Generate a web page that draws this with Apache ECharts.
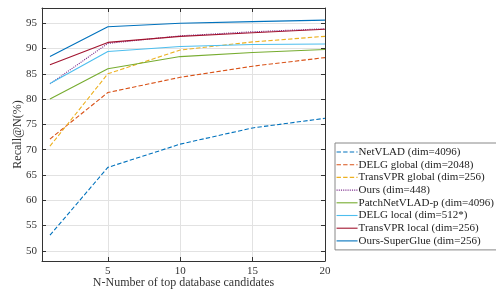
<!DOCTYPE html>
<html>
<head>
<meta charset="utf-8">
<script src="https://cdn.jsdelivr.net/npm/echarts@6/dist/echarts.min.js"></script>
<style>
html,body{margin:0;padding:0;background:#fff;}
#chart{width:496px;height:292px;}
</style>
</head>
<body>
<div id="chart"></div>
<script>
// N values on x axis
const nValues = [1, 5, 10, 15, 20];
const xTicks = [5, 10, 15, 20];
const yTicks = [50, 55, 60, 65, 70, 75, 80, 85, 90, 95];

const seriesNames = [
    "NetVLAD (dim=4096)",
    "DELG global (dim=2048)",
    "TransVPR global (dim=256)",
    "Ours (dim=448)",
    "PatchNetVLAD-p (dim=4096)",
    "DELG local (dim=512*)",
    "TransVPR local (dim=256)",
    "Ours-SuperGlue (dim=256)"
];
const netvlad = [53.1, 66.5, 71.1, 74.3, 76.2];
const delgGlobal = [72.1, 81.3, 84.3, 86.5, 88.2];
const transvprGlobal = [70.7, 85.0, 89.7, 91.3, 92.4];
const ours = [83.0, 91.0, 92.5, 93.3, 93.9];
const patchNetvlad = [80.0, 86.0, 88.4, 89.2, 89.8];
const delgLocal = [83.1, 89.4, 90.4, 90.8, 90.9];
const transvprLocal = [86.8, 91.2, 92.4, 93.1, 93.8];
const oursSuperglue = [88.4, 94.3, 95.0, 95.3, 95.6];

const seriesData = [netvlad, delgGlobal, transvprGlobal, ours, patchNetvlad, delgLocal, transvprLocal, oursSuperglue];
const colors = ['#0072BD', '#D95319', '#EDB120', '#7E2F8E', '#77AC30', '#4DBEEE', '#A2142F', '#0072BD'];
const lineTypes = ['dashed', 'dashed', 'dashed', 'dotted', 'solid', 'solid', 'solid', 'solid'];

const font = 'Liberation Serif';

function buildSeries() {
    var list = [];
    for (var i = 0; i < seriesData.length; i++) {
        var pts = [];
        for (var j = 0; j < nValues.length; j++) {
            pts.push([nValues[j], seriesData[i][j]]);
        }
        list.push({
            name: seriesNames[i],
            type: 'line',
            data: pts,
            symbol: 'none',
            color: colors[i],
            lineStyle: {width: 1.1, type: lineTypes[i], color: colors[i]},
            z: 3
        });
    }
    return list;
}

var chart = echarts.init(document.getElementById('chart'));
var axisLine = {show: true, lineStyle: {color: '#333', width: 1}};
option = {
    animation: false,
    grid: {left: 42, right: 171, top: 8, bottom: 31, outerBoundsMode: 'none'},
    xAxis: [
        {
            type: 'value', min: 0.45, max: 20, position: 'bottom',
            axisLine: axisLine,
            axisTick: {inside: true, length: 4, customValues: xTicks, lineStyle: {color: '#333'}},
            axisLabel: {customValues: xTicks, fontFamily: font, fontSize: 11, color: '#333', margin: 5},
            splitLine: {show: true, lineStyle: {color: '#e2e2e2'}},
            name: 'N-Number of top database candidates',
            nameLocation: 'middle', nameGap: 16, nameMoveOverlap: false,
            nameTextStyle: {fontFamily: font, fontSize: 12, color: '#333'}
        },
        {
            type: 'value', min: 0.45, max: 20, position: 'top',
            axisLine: axisLine,
            axisTick: {inside: true, length: 4, customValues: xTicks, lineStyle: {color: '#333'}},
            axisLabel: {show: false},
            splitLine: {show: false}
        }
    ],
    yAxis: [
        {
            type: 'value', min: 48, max: 98, position: 'left',
            axisLine: axisLine,
            axisTick: {inside: true, length: 4, customValues: yTicks, lineStyle: {color: '#333'}},
            axisLabel: {customValues: yTicks, fontFamily: font, fontSize: 11, color: '#333', margin: 5},
            splitLine: {show: true, lineStyle: {color: '#e2e2e2'}},
            name: 'Recall@N(%)',
            nameLocation: 'middle', nameGap: 18, nameMoveOverlap: false,
            nameTextStyle: {fontFamily: font, fontSize: 12, color: '#333'}
        },
        {
            type: 'value', min: 48, max: 98, position: 'right',
            axisLine: axisLine,
            axisTick: {inside: true, length: 4, customValues: yTicks, lineStyle: {color: '#333'}},
            axisLabel: {show: false},
            splitLine: {show: false}
        }
    ],
    legend: {
        orient: 'vertical',
        left: 335, top: 143,
        itemWidth: 21, itemHeight: 8, itemGap: 0.7,
        padding: [3, 3, 3, 1],
        borderColor: '#888', borderWidth: 1,
        backgroundColor: '#fff',
        itemStyle: {opacity: 0},
        lineStyle: {width: 1.1},
        textStyle: {fontFamily: font, fontSize: 11, lineHeight: 12, color: '#222', padding: [0, 0, 0, -4]},
        data: seriesNames
    },
    series: buildSeries()
};
chart.setOption(option);
</script>
</body>
</html>
